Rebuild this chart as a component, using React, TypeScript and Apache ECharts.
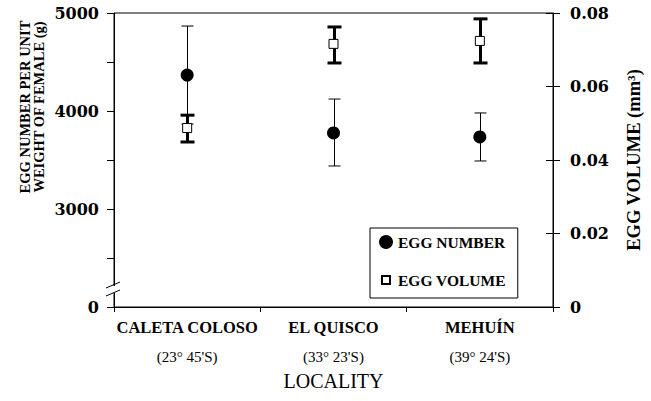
import React, { useEffect, useRef } from "react";
import * as echarts from "echarts";

const categories = ["CALETA COLOSO", "EL QUISCO", "MEHUÍN"];
const latitudes = ["(23° 45'S)", "(33° 23'S)", "(39° 24'S)"];

const eggNumber = [4367, 3776, 3735];
const eggNumberLow = [3867, 3439, 3490];
const eggNumberHigh = [4867, 4122, 3980];

const eggVolume = [0.0487, 0.0716, 0.0724];
const eggVolumeLow = [0.0449, 0.0664, 0.0664];
const eggVolumeHigh = [0.0522, 0.0762, 0.0784];

const leftTickLabels: Record<number, string> = { 2000: "0", 3000: "3000", 4000: "4000", 5000: "5000" };
const rightTickLabels: Record<string, string> = { "0": "0", "0.02": "0.02", "0.04": "0.04", "0.06": "0.06", "0.08": "0.08" };

const SERIF = '"Liberation Serif", "Times New Roman", serif';
const WIDE_SERIF = '"DejaVu Serif", serif';

function errRender(capHalf: number, lw: number) {
  return (params: any, api: any) => {
    const x = api.value(0);
    const lo = api.coord([x, api.value(1)]);
    const hi = api.coord([x, api.value(2)]);
    const cx = lw % 2 === 1 ? Math.round(lo[0]) + 0.5 : Math.round(lo[0]);
    const style = { stroke: "#000", lineWidth: lw, opacity: 1 };
    return {
      type: "group",
      children: [
        { type: "line", shape: { x1: cx, y1: lo[1], x2: cx, y2: hi[1] }, style },
        { type: "line", shape: { x1: cx - capHalf, y1: hi[1], x2: cx + capHalf, y2: hi[1] }, style },
        { type: "line", shape: { x1: cx - capHalf, y1: lo[1], x2: cx + capHalf, y2: lo[1] }, style },
      ],
    };
  };
}

export default function App() {
  const ref = useRef<HTMLDivElement>(null);
  useEffect(() => {
    if (!ref.current) return;
    const chart = echarts.init(ref.current, undefined, { renderer: "svg" });
    chart.setOption({
      animation: false,
      backgroundColor: "#fff",
      grid: {
        left: 114,
        right: 86,
        top: 13,
        bottom: 94,
        show: true,
        borderColor: "#000",
        borderWidth: 1,
        backgroundColor: "transparent",
      },
      legend: {
        orient: "vertical",
        left: 370,
        top: 228,
        itemWidth: 14,
        itemHeight: 14,
        itemGap: 22,
        padding: [6, 12, 10, 8],
        borderColor: "#000",
        borderWidth: 1,
        backgroundColor: "#fff",
        selectedMode: false,
        textStyle: { fontFamily: SERIF, fontWeight: "bold", fontSize: 15.5, color: "#000" },
        data: [
          { name: "EGG NUMBER", icon: "circle" },
          { name: "EGG VOLUME", icon: "path://M0,0M14,14M3,3h8v8h-8z" },
        ],
      },
      xAxis: {
        type: "category",
        data: categories,
        boundaryGap: true,
        axisLine: { show: true, lineStyle: { color: "#000", width: 1 } },
        axisTick: { show: true, length: 5, lineStyle: { color: "#000" } },
        splitLine: { show: false },
        axisLabel: {
          interval: 0,
          margin: 5.5,
          formatter: (v: string, i: number) => `{a|${v}}\n{b|${latitudes[i]}}`,
          rich: {
            a: { fontFamily: SERIF, fontWeight: "bold", fontSize: 16.5, lineHeight: 30, color: "#000" },
            b: { fontFamily: SERIF, fontSize: 15, lineHeight: 29, color: "#000" },
          },
        },
        name: "LOCALITY",
        nameLocation: "middle",
        nameGap: 64,
        nameTextStyle: { fontFamily: SERIF, fontSize: 20, color: "#000" },
      },
      yAxis: [
        {
          type: "value",
          position: "left",
          min: 2000,
          max: 5000,
          interval: 500,
          axisLine: { show: true, lineStyle: { color: "#000", width: 1 } },
          axisTick: { show: true, length: 7, lineStyle: { color: "#000" } },
          splitLine: { show: false },
          axisLabel: {
            margin: 15,
            formatter: (v: number) => leftTickLabels[v] ?? "",
            fontFamily: WIDE_SERIF,
            fontWeight: "bold",
            fontSize: 16,
            color: "#000",
          },
        },
        {
          type: "value",
          position: "right",
          min: 0,
          max: 0.08,
          interval: 0.02,
          axisLine: { show: true, lineStyle: { color: "#000", width: 1 } },
          axisTick: { show: true, length: 7, lineStyle: { color: "#000" } },
          splitLine: { show: false },
          axisLabel: {
            margin: 17,
            formatter: (v: number) => rightTickLabels[String(Number(v.toFixed(2)))] ?? "",
            fontFamily: WIDE_SERIF,
            fontWeight: "bold",
            fontSize: 16,
            color: "#000",
          },
          name: "EGG VOLUME (mm³)",
          nameLocation: "middle",
          nameRotate: 90,
          nameGap: 71,
          nameTextStyle: { fontFamily: SERIF, fontWeight: "bold", fontSize: 18.5, color: "#000" },
        },
        {
          type: "value",
          position: "right",
          min: 0,
          max: 0.08,
          interval: 0.02,
          axisLine: { show: false },
          axisTick: { show: true, inside: true, length: 7, lineStyle: { color: "#000" } },
          axisLabel: { show: false },
          splitLine: { show: false },
        },
      ],
      series: [
        {
          name: "numErr",
          type: "custom",
          xAxisIndex: 0,
          yAxisIndex: 0,
          z: 1,
          renderItem: errRender(6, 1),
          data: categories.map((_, i) => [i, eggNumberLow[i], eggNumberHigh[i]]),
        },
        {
          name: "volErr",
          type: "custom",
          xAxisIndex: 0,
          yAxisIndex: 1,
          z: 2,
          renderItem: errRender(7, 3),
          data: categories.map((_, i) => [i, eggVolumeLow[i], eggVolumeHigh[i]]),
        },
        {
          name: "EGG NUMBER",
          type: "scatter",
          yAxisIndex: 0,
          z: 3,
          symbol: "circle",
          symbolSize: 13,
          itemStyle: { color: "#000", opacity: 1 },
          data: eggNumber,
        },
        {
          name: "EGG VOLUME",
          type: "scatter",
          yAxisIndex: 1,
          z: 4,
          symbol: "rect",
          symbolSize: 9,
          itemStyle: { color: "#fff", borderColor: "#000", borderWidth: 1, opacity: 1 },
          data: eggVolume,
        },
      ],
      graphic: [
        {
          type: "text",
          x: 32,
          y: 107,
          rotation: Math.PI / 2,
          z: 100,
          style: {
            text: "EGG NUMBER PER UNIT\nWEIGHT OF FEMALE (g)",
            fontFamily: SERIF,
            fontWeight: "bold",
            fontSize: 14.5,
            lineHeight: 14,
            align: "center",
            verticalAlign: "middle",
            fill: "#000",
          },
        },
        { type: "rect", z: 100, shape: { x: 111, y: 286, width: 6, height: 7 }, style: { fill: "#fff" } },
        { type: "line", z: 101, shape: { x1: 106, y1: 288, x2: 120, y2: 282 }, style: { stroke: "#000", lineWidth: 1 } },
        { type: "line", z: 101, shape: { x1: 106, y1: 296, x2: 120, y2: 290 }, style: { stroke: "#000", lineWidth: 1 } },
      ],
    });
    return () => chart.dispose();
  }, []);
  return <div ref={ref} style={{ position: "fixed", left: 0, top: 0, width: 651, height: 401 }} />;
}
